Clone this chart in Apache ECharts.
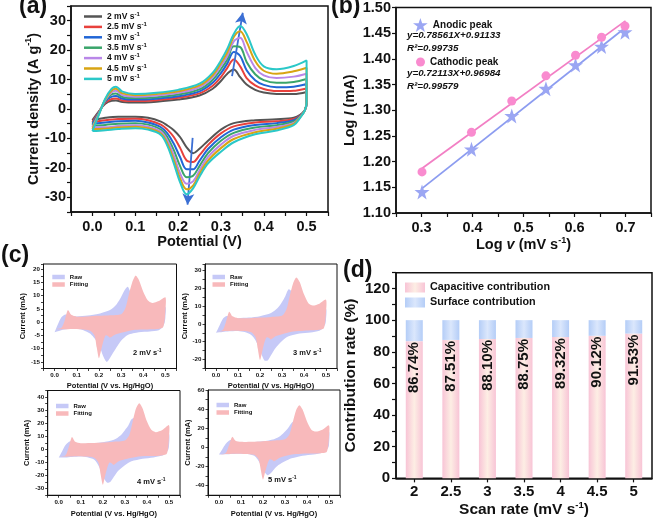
<!DOCTYPE html>
<html><head><meta charset="utf-8">
<script src="https://cdn.jsdelivr.net/npm/echarts@6/dist/echarts.min.js"></script>
<style>html,body{margin:0;padding:0;background:#fff}#c{width:654px;height:519px}</style>
</head><body><div id="c"></div>
<script>
const FONT = 'Arial, "Liberation Sans", Helvetica, sans-serif';

// ---------- (a) CV curves ----------
const scanRates = ['2', '2.5', '3', '3.5', '4', '4.5', '5'];
const cvColors = ['#555555', '#e8413c', '#2166d6', '#3aa56b', '#b987e8', '#d8a413', '#2bc8c8'];
const potUp = [0, 0.015, 0.03, 0.045, 0.055, 0.07, 0.1, 0.15, 0.2, 0.25, 0.28, 0.3, 0.315, 0.33, 0.345, 0.36, 0.38, 0.4, 0.43, 0.47, 0.5];
const potDn = [0.5, 0.496, 0.485, 0.47, 0.43, 0.38, 0.33, 0.3, 0.27, 0.25, 0.235, 0.22, 0.205, 0.19, 0.175, 0.16, 0.13, 0.1, 0.06, 0.03, 0];
const up_2   = [-3.8, -0.8, 1.8, 2.8, 2.9, 2.4, 2.2, 2.5, 3.2, 4.6, 6.8, 9.5, 12.0, 13.4, 10.8, 8.3, 6.5, 5.6, 5.1, 5.1, 5.8];
const up_2_5 = [-4.4, -1.0, 2.2, 3.4, 3.6, 2.9, 2.7, 3.0, 3.8, 5.3, 7.8, 10.8, 14.0, 16.8, 14.5, 10.5, 8.0, 6.8, 6.1, 6.2, 7.0];
const up_3   = [-5.0, -1.2, 2.6, 4.2, 4.4, 3.5, 3.2, 3.5, 4.3, 6.0, 8.8, 12.2, 15.5, 19.4, 18.0, 13.2, 9.8, 8.2, 7.4, 7.6, 8.5];
const up_3_5 = [-5.6, -1.4, 2.9, 5.0, 5.3, 4.1, 3.7, 4.0, 4.9, 6.7, 9.8, 13.5, 16.8, 21.3, 21.0, 16.0, 11.8, 9.8, 8.9, 9.2, 10.2];
const up_4   = [-6.2, -1.6, 3.1, 5.7, 6.2, 4.7, 4.2, 4.6, 5.5, 7.4, 10.7, 14.7, 18.0, 23.0, 24.2, 19.5, 14.0, 11.4, 10.5, 11.0, 12.0];
const up_4_5 = [-6.8, -1.8, 3.3, 6.3, 6.9, 5.3, 4.7, 5.1, 6.0, 8.0, 11.4, 15.6, 19.3, 24.5, 26.4, 22.8, 16.3, 13.0, 12.0, 12.8, 14.0];
const up_5   = [-7.5, -2.0, 3.5, 6.9, 7.6, 5.9, 5.1, 5.5, 6.5, 8.6, 12.2, 16.5, 20.5, 25.5, 28.2, 25.5, 18.5, 14.5, 13.5, 14.6, 16.5];
const dn_2   = [2.0, -0.3, -2.0, -3.0, -3.5, -3.8, -4.8, -7.0, -10.8, -13.5, -15.0, -13.0, -9.6, -7.2, -5.6, -4.3, -3.0, -2.6, -2.6, -3.0, -3.8];
const dn_2_5 = [2.1, -0.4, -2.2, -3.4, -4.2, -4.6, -5.9, -8.3, -12.2, -15.7, -18.0, -17.5, -13.3, -9.5, -7.0, -5.3, -3.8, -3.3, -3.4, -3.8, -4.4];
const dn_3   = [2.2, -0.4, -2.4, -3.8, -4.8, -5.4, -7.0, -9.6, -13.6, -17.6, -20.5, -20.5, -16.5, -11.8, -8.3, -6.2, -4.6, -4.0, -4.2, -4.6, -5.0];
const dn_3_5 = [2.3, -0.4, -2.6, -4.3, -5.5, -6.3, -8.1, -10.8, -15.0, -19.4, -22.7, -23.2, -19.5, -14.0, -9.6, -7.0, -5.3, -4.8, -5.0, -5.4, -5.6];
const dn_4   = [2.4, -0.5, -2.7, -4.7, -6.1, -7.1, -9.1, -12.1, -16.3, -20.9, -24.6, -25.4, -22.0, -15.8, -10.7, -7.7, -6.0, -5.5, -5.8, -6.2, -6.2];
const dn_4_5 = [2.5, -0.5, -2.8, -5.1, -6.7, -7.9, -10.2, -13.3, -17.5, -22.0, -26.0, -27.3, -23.7, -17.3, -11.7, -8.3, -6.5, -6.0, -6.3, -6.7, -6.8];
const dn_5   = [2.5, -0.5, -3.0, -5.5, -7.3, -8.6, -11.3, -14.5, -18.5, -23.0, -27.0, -29.0, -25.0, -18.5, -12.5, -8.8, -7.0, -6.5, -6.8, -7.2, -7.5];
const cvUps = [up_2, up_2_5, up_3, up_3_5, up_4, up_4_5, up_5];
const cvDns = [dn_2, dn_2_5, dn_3, dn_3_5, dn_4, dn_4_5, dn_5];
const arrowAnodic = [[0.326, 11.2], [0.351, 32.7]];
const arrowCathodic = [[0.234, -9.8], [0.222, -32.5]];

// ---------- (b) log i vs log v ----------
const logScanRate = [0.301, 0.398, 0.477, 0.544, 0.602, 0.653, 0.699];
const logIpAnodic = [1.141, 1.224, 1.289, 1.342, 1.388, 1.424, 1.452];
const logIpCathodic = [1.180, 1.257, 1.318, 1.367, 1.407, 1.442, 1.464];
const fitX = [0.3, 0.7];
const fitAnodicY = [1.147, 1.461];
const fitCathodicY = [1.186, 1.474];

// ---------- (c) raw vs fitting ----------
const cPanelRates = ['2', '3', '4', '5'];
const potFitUp = [0, 0.03, 0.045, 0.06, 0.075, 0.1, 0.15, 0.2, 0.25, 0.3, 0.32, 0.335, 0.35, 0.365, 0.38, 0.4, 0.42, 0.44, 0.47, 0.5];
const potFitDn = [0.5, 0.49, 0.46, 0.4, 0.35, 0.3, 0.27, 0.25, 0.24, 0.23, 0.22, 0.21, 0.2, 0.19, 0.18, 0.16, 0.12, 0.08, 0.04, 0];
const fitUp_2 = [-2.6, -2.2, 0.5, 4.6, 2.8, 2.1, 2.2, 2.4, 2.6, 3.0, 5.5, 10.5, 15.0, 17.6, 16.0, 11.5, 8.3, 7.3, 8.0, 9.4];
const fitDn_2 = [4.5, -1.8, -2.6, -2.8, -3.0, -4.0, -4.8, -5.8, -5.2, -5.0, -7.2, -10.5, -13.6, -9.5, -5.0, -3.2, -2.7, -2.6, -2.7, -2.6];
const fitUp_3 = [-4.4, -3.6, 1.0, 6.8, 4.2, 3.2, 3.2, 3.5, 3.9, 4.5, 8.0, 15.5, 22.5, 26.0, 23.5, 16.5, 11.5, 10.2, 11.3, 13.5];
const fitDn_3 = [6.5, -2.5, -3.5, -3.8, -4.3, -5.8, -7.0, -8.7, -7.8, -7.5, -10.5, -15.5, -20.3, -14.0, -7.5, -4.7, -4.0, -3.8, -4.0, -4.4];
const fitUp_4 = [-5.4, -4.6, 1.5, 9.5, 5.8, 4.8, 4.9, 5.3, 5.9, 6.8, 11.0, 21.0, 31.0, 35.3, 31.5, 21.5, 15.0, 13.2, 14.8, 18.5];
const fitDn_4 = [9.0, -3.4, -4.8, -5.1, -5.7, -7.5, -9.2, -11.8, -10.5, -10.0, -14.0, -20.5, -27.0, -19.0, -10.0, -6.3, -5.5, -5.3, -5.5, -5.4];
const fitUp_5 = [-7.2, -6.0, 2.0, 11.0, 7.0, 5.8, 5.9, 6.4, 7.2, 8.5, 13.5, 26.0, 38.5, 44.0, 39.5, 27.0, 18.5, 16.5, 18.5, 23.0];
const fitDn_5 = [11.0, -4.5, -6.0, -6.3, -7.0, -9.0, -11.5, -14.5, -13.0, -12.5, -17.5, -25.5, -33.5, -23.5, -12.5, -7.8, -6.8, -6.5, -6.8, -7.2];
const rawUps = [up_2, up_3, up_4, up_5];
const rawDns = [dn_2, dn_3, dn_4, dn_5];
const fitUps = [fitUp_2, fitUp_3, fitUp_4, fitUp_5];
const fitDns = [fitDn_2, fitDn_3, fitDn_4, fitDn_5];

// ---------- (d) contribution ----------
const scanLabels = ['2', '2.5', '3', '3.5', '4', '4.5', '5'];
const capacitive = [86.74, 87.51, 88.10, 88.75, 89.32, 90.12, 91.53];
const surface = [13.26, 12.49, 11.90, 11.25, 10.68, 9.88, 8.47];

// ---------- helpers ----------
function loop(xu, yu, xd, yd) {
  return xu.map((x, i) => [x, yu[i]]).concat(xd.map((x, i) => [x, yd[i]]));
}
function multFmt(step, dec) {
  return v => (Math.abs(v / step - Math.round(v / step)) < 1e-6) ? v.toFixed(dec) : '';
}
const AX = '#111';
function vAxis(gi, o) {
  return Object.assign({
    type: 'value', gridIndex: gi, scale: false,
    axisLine: { show: true, onZero: false, lineStyle: { color: AX, width: o.lw || 1.5 } },
    axisTick: { show: true, length: o.tl || 4, lineStyle: { color: AX, width: o.tw || 1.2 } },
    splitLine: { show: false },
    axisLabel: { fontFamily: FONT, fontWeight: 'bold', color: AX, fontSize: o.fs, margin: o.margin, formatter: o.fmt },
    nameLocation: 'middle', nameGap: o.gap,
    nameTextStyle: { fontFamily: FONT, fontWeight: 'bold', color: AX, fontSize: o.nfs, rich: o.rich }
  }, o.extra);
}
function richSet(fs, sfs) {
  return {
    b: { fontFamily: FONT, fontWeight: 'bold', fontSize: fs, color: AX, lineHeight: fs + 4 },
    i: { fontFamily: FONT, fontWeight: 'bold', fontStyle: 'italic', fontSize: fs, color: AX, lineHeight: fs + 4 },
    s: { fontFamily: FONT, fontWeight: 'bold', fontSize: sfs, color: AX, verticalAlign: 'top', lineHeight: sfs + 1 }
  };
}

const grids = [
  { left: 71, top: 6, width: 257, height: 206 },
  { left: 396, top: 7, width: 256, height: 206 },
  { left: 43.5, top: 264, width: 133, height: 104.5 },
  { left: 205, top: 264, width: 132, height: 104.5 },
  { left: 47.7, top: 390.5, width: 132.3, height: 107.5 },
  { left: 208, top: 390, width: 132, height: 108 },
  { left: 396, top: 272.7, width: 256, height: 206.6 }
].map((g, i) => Object.assign({ show: true, borderColor: AX, borderWidth: (i >= 2 && i <= 5) ? 1 : 1.5, backgroundColor: 'transparent' }, g));

const R14 = richSet(14.5, 9);
const Rc = richSet(7.5, 5);

const xAxes = [
  vAxis(0, { fs: 14.5, margin: 7, fmt: multFmt(0.1, 1), gap: 21, nfs: 14.5, extra: { min: -0.05, max: 0.55, interval: 0.05, name: '{b|Potential (V)}' }, rich: R14 }),
  vAxis(1, { fs: 14.5, margin: 7, fmt: multFmt(0.1, 1), gap: 21, nfs: 14.5, extra: { min: 0.25, max: 0.75, interval: 0.05, name: '{b|Log }{i|v}{b| (mV s}{s|-1}{b|)}' }, rich: R14 }),
];
const yAxes = [
  vAxis(0, { fs: 14.5, margin: 5, fmt: v => (Math.abs(v / 10 - Math.round(v / 10)) < 1e-6) ? String(Math.round(v)) : '', gap: 28, nfs: 14.5, extra: { min: -35, max: 35, interval: 5, name: '{b|Current density (A g}{s|-1}{b|)}' }, rich: R14 }),
  vAxis(1, { fs: 14.5, margin: 5, fmt: v => v.toFixed(2), gap: 37, nfs: 14.5, extra: { min: 1.1, max: 1.5, interval: 0.05, name: '{b|Log }{i|I}{b| (mA)}' }, rich: R14 }),
];
const cY = [
  { min: -17.5, max: 22, interval: 2.5, step: 5 },
  { min: -25, max: 33.5, interval: 5, step: 10 },
  { min: -35, max: 45, interval: 5, step: 10 },
  { min: -50, max: 60, interval: 10, step: 20 }
];
for (let k = 0; k < 4; k++) {
  const gi = k + 2;
  xAxes.push(vAxis(gi, { fs: 6.2, margin: 4, lw: 1, tl: 2.5, tw: 0.8, fmt: multFmt(0.1, 1), gap: k < 2 ? 12 : 13, nfs: 7, extra: { min: -0.05, max: 0.55, interval: 0.05, name: '{b|Potential (V vs. Hg/HgO)}' }, rich: Rc }));
  const st = cY[k].step;
  yAxes.push(vAxis(gi, { fs: 6.2, margin: 3.5, lw: 1, tl: 2.5, tw: 0.8, fmt: v => (Math.abs(v / st - Math.round(v / st)) < 1e-6) ? String(Math.round(v)) : '', gap: 14, nfs: 7.5, extra: { min: cY[k].min, max: cY[k].max, interval: cY[k].interval, name: '{b|Current (mA)}' }, rich: Rc }));
}
xAxes.push({
  type: 'category', gridIndex: 6, data: scanLabels, boundaryGap: true,
  axisLine: { show: true, lineStyle: { color: AX, width: 1.5 } },
  axisTick: { show: true, alignWithLabel: true, length: 4, lineStyle: { color: AX, width: 1.2 } },
  axisLabel: { fontFamily: FONT, fontWeight: 'bold', color: AX, fontSize: 15, margin: 6 },
  name: '{b|Scan rate (mV s}{s|-1}{b|)}', nameLocation: 'middle', nameGap: 15,
  nameTextStyle: { rich: richSet(15.5, 9.5) }
});
yAxes.push(vAxis(6, { fs: 15, margin: 6, fmt: v => (Math.round(v) % 20 === 0) ? String(Math.round(v)) : '', gap: 36, nfs: 15.5, extra: { min: 0, max: 130, interval: 10, name: '{b|Contribution rate (%)}' }, rich: richSet(15.5, 9) }));

const series = [];
// (a)
scanRates.forEach((r, i) => {
  series.push({
    type: 'line', name: r + ' mV s-1', xAxisIndex: 0, yAxisIndex: 0,
    data: loop(potUp, cvUps[i], potDn, cvDns[i]), showSymbol: false, symbol: 'none',
    smooth: 0.35, lineStyle: { width: 2, color: cvColors[i] }, itemStyle: { color: cvColors[i] }, z: 2 + i
  });
});
series.push({
  type: 'line', name: 'arrows', xAxisIndex: 0, yAxisIndex: 0, data: [], z: 20,
  markLine: {
    silent: true, symbol: ['none', 'arrow'], symbolSize: [9, 11], label: { show: false },
    lineStyle: { color: '#3b6fd4', width: 1.8, type: 'solid' },
    data: [
      [{ coord: arrowAnodic[0] }, { coord: arrowAnodic[1] }],
      [{ coord: arrowCathodic[0] }, { coord: arrowCathodic[1] }]
    ]
  }
});
// (b)
const STAR = 'path://M12,0 L14.9,8.6 L24,8.6 L16.7,14 L19.4,22.8 L12,17.5 L4.6,22.8 L7.3,14 L0,8.6 L9.1,8.6 Z';
series.push({ type: 'line', name: 'fitA', xAxisIndex: 1, yAxisIndex: 1, data: fitX.map((x, i) => [x, fitAnodicY[i]]), showSymbol: false, symbol: 'none', lineStyle: { color: '#8c9cf0', width: 1.8 }, z: 2 });
series.push({ type: 'line', name: 'fitC', xAxisIndex: 1, yAxisIndex: 1, data: fitX.map((x, i) => [x, fitCathodicY[i]]), showSymbol: false, symbol: 'none', lineStyle: { color: '#f27fc4', width: 1.8 }, z: 2 });
series.push({ type: 'scatter', name: 'Anodic peak', xAxisIndex: 1, yAxisIndex: 1, data: logScanRate.map((x, i) => [x, logIpAnodic[i]]), symbol: STAR, symbolSize: 15, itemStyle: { color: '#9ba6f3', opacity: 1 }, z: 4 });
series.push({ type: 'scatter', name: 'Cathodic peak', xAxisIndex: 1, yAxisIndex: 1, data: logScanRate.map((x, i) => [x, logIpCathodic[i]]), symbol: 'circle', symbolSize: 9, itemStyle: { color: '#f98bcf', opacity: 1 }, z: 4 });
// (c)
function polySeries(name, pts, color, gi, z) {
  return {
    type: 'custom', name, xAxisIndex: gi, yAxisIndex: gi, coordinateSystem: 'cartesian2d',
    itemStyle: { color }, data: pts, encode: { x: 0, y: 1 }, clip: true, silent: true, z,
    renderItem: (params, api) => {
      if (params.dataIndex !== 0) return null;
      const points = pts.map(p => api.coord(p));
      return { type: 'polygon', shape: { points, smooth: 0.25 }, style: { fill: color } };
    }
  };
}
for (let k = 0; k < 4; k++) {
  series.push(polySeries('Raw', loop(potUp, rawUps[k], potDn, rawDns[k]), '#c6c9f7', k + 2, 2));
  series.push(polySeries('Fitting', loop(potFitUp, fitUps[k], potFitDn, fitDns[k]), '#f8b9bb', k + 2, 3));
}
// (d)
const capGrad = { type: 'linear', x: 0, y: 0, x2: 1, y2: 0, colorStops: [{ offset: 0, color: '#f8c4d6' }, { offset: 0.5, color: '#fdeee4' }, { offset: 1, color: '#f8c4d6' }] };
const surfGrad = { type: 'linear', x: 0, y: 0, x2: 1, y2: 0, colorStops: [{ offset: 0, color: '#b4cdf7' }, { offset: 0.5, color: '#dbe7fc' }, { offset: 1, color: '#b4cdf7' }] };
series.push({
  type: 'bar', name: 'Capacitive contribution', xAxisIndex: 6, yAxisIndex: 6, stack: 'tot', barWidth: 17,
  data: capacitive, itemStyle: { color: capGrad },
  label: { show: true, position: 'insideTop', rotate: 90, align: 'right', verticalAlign: 'middle', distance: 1,
    formatter: p => p.value.toFixed(2) + '%', fontFamily: FONT, fontWeight: 'bold', fontSize: 15, color: '#111' }
});
series.push({ type: 'bar', name: 'Surface contribution', xAxisIndex: 6, yAxisIndex: 6, stack: 'tot', barWidth: 17, data: surface, itemStyle: { color: surfGrad } });

const legAText = {
  t: { fontFamily: FONT, fontWeight: 'bold', fontSize: 8.5, color: AX, lineHeight: 11 },
  s: { fontFamily: FONT, fontWeight: 'bold', fontSize: 6, color: AX, verticalAlign: 'top', lineHeight: 7 }
};
const legends = [
  { left: 79, top: 6, orient: 'vertical', icon: 'rect', itemWidth: 18, itemHeight: 2.5, itemGap: 0.4, itemTextGap: 4,
    data: scanRates.map(r => r + ' mV s-1'), formatter: n => '{t|' + n.slice(0, -2) + '}{s|-1}', textStyle: { rich: legAText } },
  { left: 408, top: 13, itemWidth: 15, itemHeight: 14, itemTextGap: 8, data: ['Anodic peak'], textStyle: { fontFamily: FONT, fontWeight: 'bold', fontSize: 10, color: AX } },
  { left: 411, top: 52, itemWidth: 9, itemHeight: 9, itemTextGap: 12, data: ['Cathodic peak'], textStyle: { fontFamily: FONT, fontWeight: 'bold', fontSize: 10, color: AX } },
  { left: 400, top: 277, orient: 'vertical', icon: 'rect', itemWidth: 20, itemHeight: 10, itemGap: 4, itemTextGap: 7,
    data: ['Capacitive contribution', 'Surface contribution'], textStyle: { fontFamily: FONT, fontWeight: 'bold', fontSize: 10.8, color: AX } }
];
const cLegPos = [[47.3, 269], [207.5, 269], [51, 398], [211.5, 397]];
cLegPos.forEach(p => legends.push({ left: p[0], top: p[1], orient: 'vertical', icon: 'rect', itemWidth: 12.5, itemHeight: 4.5, itemGap: 1.5, itemTextGap: 3, data: ['Raw', 'Fitting'], textStyle: { fontFamily: FONT, fontWeight: 'bold', fontSize: 6, color: AX } }));

function gtext(left, top, text, font, rich) {
  const st = { text, fill: AX };
  if (font) st.font = font;
  if (rich) st.rich = rich;
  return { type: 'text', left, top, style: st, z: 50 };
}
const scanRich = {
  t: { fontFamily: FONT, fontWeight: 'bold', fontSize: 7.5, color: AX, lineHeight: 10 },
  s: { fontFamily: FONT, fontWeight: 'bold', fontSize: 5, color: AX, verticalAlign: 'top', lineHeight: 6 }
};
const cLabelPos = [[133, 348], [293, 348], [137, 477], [268, 475]];
const graphics = [
  gtext(19, -5, '(a)', 'bold 23px ' + FONT),
  gtext(331, -5, '(b)', 'bold 23px ' + FONT),
  gtext(1, 244, '(c)', 'bold 23px ' + FONT),
  gtext(343, 259, '(d)', 'bold 23px ' + FONT),
  gtext(407, 30, 'y=0.78561X+0.91133', 'italic bold 9.8px ' + FONT),
  gtext(407, 43, 'R²=0.99735', 'italic bold 9.8px ' + FONT),
  gtext(407, 68, 'y=0.72113X+0.96984', 'italic bold 9.8px ' + FONT),
  gtext(407, 81, 'R²=0.99579', 'italic bold 9.8px ' + FONT)
];
cPanelRates.forEach((r, k) => graphics.push(gtext(cLabelPos[k][0], cLabelPos[k][1], '{t|' + r + ' mV s}{s|-1}', null, scanRich)));

const chart = echarts.init(document.getElementById('c'), null, { renderer: 'canvas' });
chart.setOption({
  animation: false,
  backgroundColor: '#fff',
  grid: grids, xAxis: xAxes, yAxis: yAxes, series, legend: legends, graphic: graphics
});
</script></body></html>
